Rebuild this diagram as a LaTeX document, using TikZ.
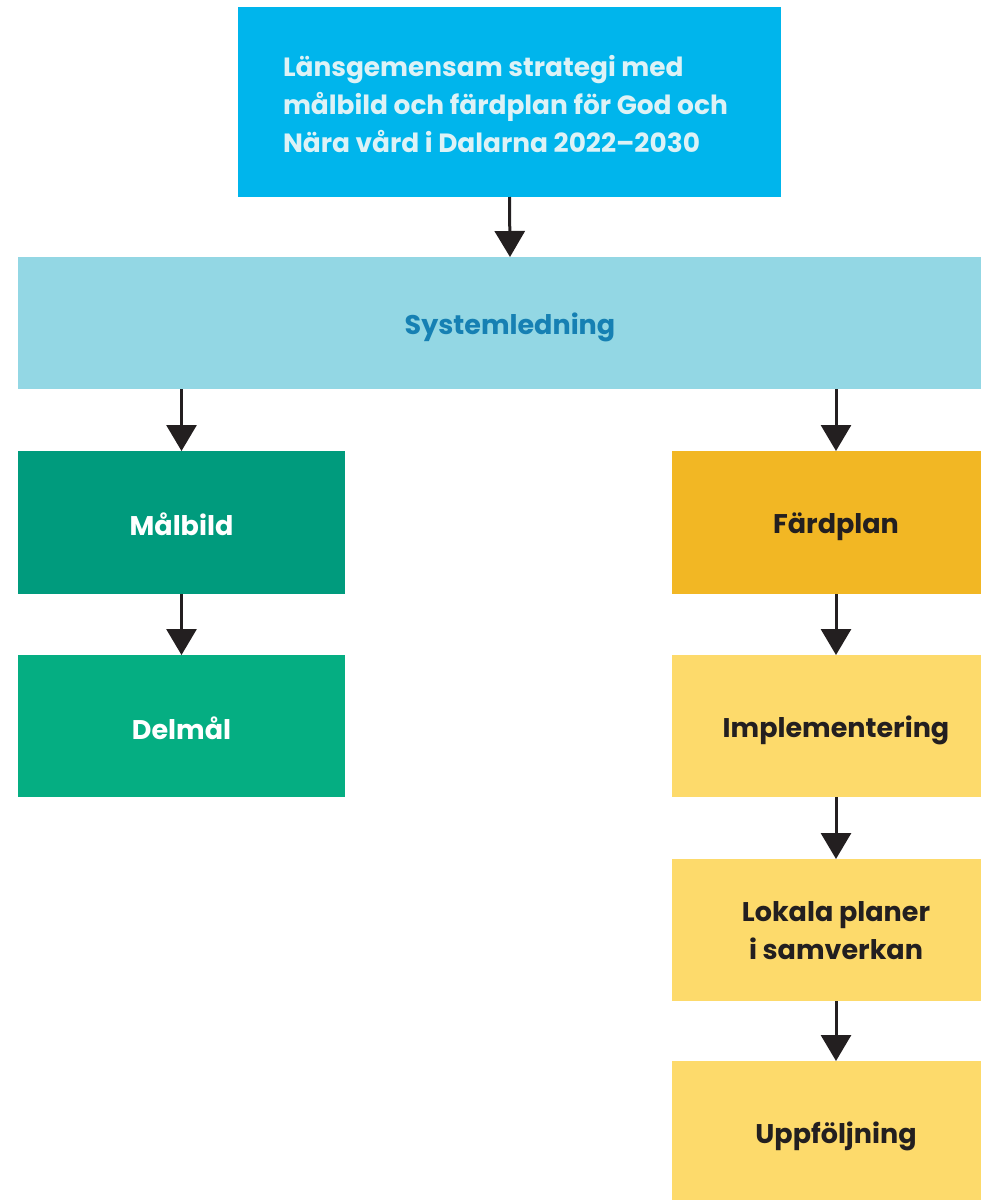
\documentclass[tikz,border=0pt]{standalone}
\usepackage{fontspec}
\setmainfont{Poppins}
\usetikzlibrary{arrows.meta}
\definecolor{topblue}{HTML}{00B5EC}
\definecolor{toptext}{HTML}{DDF2F6}
\definecolor{syslight}{HTML}{93D7E4}
\definecolor{systext}{HTML}{1680B3}
\definecolor{greendark}{HTML}{009B7D}
\definecolor{greenmid}{HTML}{05AE82}
\definecolor{orange}{HTML}{F2B724}
\definecolor{yellowlt}{HTML}{FDDA6B}
\definecolor{ink}{HTML}{231F20}
\newcommand{\lowr}[2][-4pt]{\raisebox{#1}[\height][\depth]{#2}}
\begin{document}
\begin{tikzpicture}[x=1pt,y=-1pt,
  box/.style={rectangle,inner sep=0pt,outer sep=0pt,align=center,font=\bfseries\fontsize{27}{38}\selectfont},
  flow/.style={draw=ink,line width=3pt,-{Triangle[width=30pt,length=26pt]}}]
\useasboundingbox (0,0) rectangle (981,1200);
\clip (0,0) rectangle (981,1200);
% boxes
\node[box,fill=topblue,minimum width=543pt,minimum height=190pt] (top) at (509.5,102) {};
\node[box,text=toptext,align=left,anchor=west,font=\bfseries\fontsize{26.4}{38}\selectfont] (toptxt) at (283,104)
  {Länsgemensam strategi med\\målbild och färdplan för God och\\Nära vård i Dalarna 2022–2030};
\node[box,fill=syslight,text=systext,minimum width=984pt,minimum height=132pt] (sys) at (510,323) {\lowr{Systemledning}};
\node[box,fill=greendark,text=white,minimum width=327pt,minimum height=143pt] (mal) at (181.5,522.5) {\lowr[-2pt]{Målbild}};
\node[box,fill=greenmid,text=white,minimum width=327pt,minimum height=142pt] (del) at (181.5,726) {\lowr[-2pt]{Delmål}};
\node[box,fill=orange,text=ink,minimum width=328pt,minimum height=143pt] (fard) at (836,522.5) {\lowr{Färdplan}};
\node[box,fill=yellowlt,text=ink,minimum width=328pt,minimum height=142pt] (impl) at (836,726) {\lowr{Implementering}};
\node[box,fill=yellowlt,text=ink,minimum width=328pt,minimum height=142pt] (lok) at (836,930) {\lowr[-3pt]{\begin{tabular}{@{}c@{}}Lokala planer\\i samverkan\end{tabular}}};
\node[box,fill=yellowlt,text=ink,minimum width=328pt,minimum height=142pt] (upp) at (836,1132) {\lowr{Uppföljning}};
% arrows
\draw[flow] (top.south) -- (sys.north);
\draw[flow] (mal.north |- sys.south) -- (mal.north);
\draw[flow] (fard.north |- sys.south) -- (fard.north);
\draw[flow] (mal) -- (del);
\draw[flow] (fard) -- (impl);
\draw[flow] (impl) -- (lok);
\draw[flow] (lok) -- (upp);
\end{tikzpicture}
\end{document}
